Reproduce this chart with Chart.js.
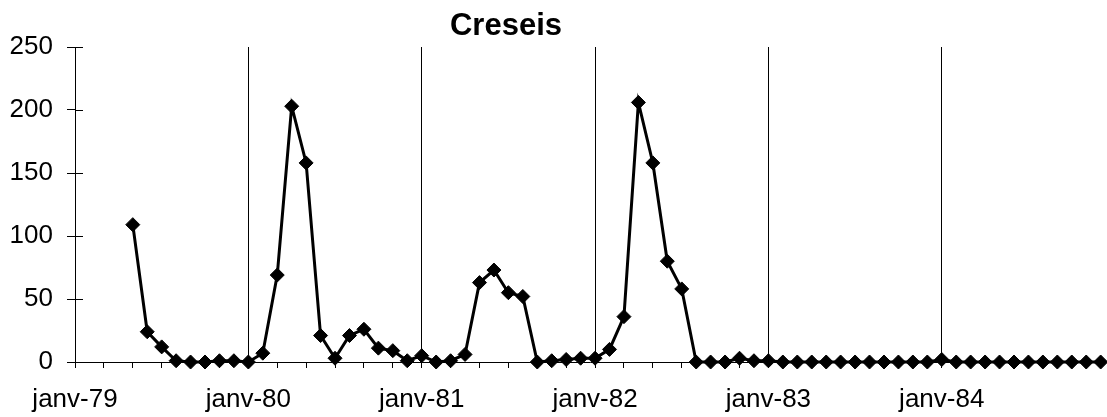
<!DOCTYPE html>
<html>
<head>
<meta charset="utf-8">
<script src="https://cdn.jsdelivr.net/npm/chart.js@4"></script>
<style>
  html, body { margin: 0; padding: 0; background: #fff; overflow: hidden; }
  #wrap { position: relative; width: 1107px; height: 417px; overflow: hidden; }
  #title {
    position: absolute; top: 7px; left: 406px; width: 200px; text-align: center;
    font: bold 31px "Liberation Sans", Arial, sans-serif; color: #000;
  }
  canvas { position: absolute; left: 0; top: 0; }
</style>
</head>
<body>
<div id="wrap">
  <canvas id="chart" width="1113" height="417"></canvas>
  <div id="title">Creseis</div>
</div>
<script>
// months counted from janv-79 (0 = janv-79)
const months = [];
for (let m = 4; m <= 71; m++) months.push(m);

const counts = [
  109, 24, 12, 1, 0, 0, 1, 1, 0,            // mai-79 .. janv-80
  7, 69, 203, 158, 21, 3, 21, 26, 11, 9, 1, // fevr-80 .. dec-80
  5, 0, 1, 6, 63, 73, 55, 52, 0, 1, 2, 3,   // janv-81 .. dec-81
  3, 10, 36, 206, 158, 80, 58, 0, 0, 0, 3, 1, // janv-82 .. dec-82
  1, 0, 0, 0, 0, 0, 0, 0, 0, 0, 0, 0,       // janv-83 .. dec-83
  2, 0, 0, 0, 0, 0, 0, 0, 0, 0, 0, 0        // janv-84 .. dec-84
];

const yearLabels = ['janv-79', 'janv-80', 'janv-81', 'janv-82', 'janv-83', 'janv-84'];

const FONT = { family: '"Liberation Sans", Arial, sans-serif', size: 26 };

// small tick marks on the inner side of the y axis
const innerTicks = {
  id: 'innerTicks',
  afterDraw(chart) {
    const y = chart.scales.y, ctx = chart.ctx;
    ctx.save();
    ctx.strokeStyle = '#000';
    ctx.lineWidth = 1;
    y.ticks.forEach(t => {
      const py = Math.round(y.getPixelForValue(t.value)) + 0.5;
      ctx.beginPath();
      ctx.moveTo(y.right, py);
      ctx.lineTo(y.right + 8, py);
      ctx.stroke();
    });
    ctx.restore();
  }
};

new Chart(document.getElementById('chart').getContext('2d'), {
  type: 'line',
  data: {
    datasets: [{
      data: months.map((m, i) => ({ x: m, y: counts[i] })),
      borderColor: '#000',
      backgroundColor: '#000',
      borderWidth: 3,
      pointStyle: 'rectRot',
      pointRadius: 7,
      pointHoverRadius: 7,
      pointBorderWidth: 1,
      pointBackgroundColor: '#000',
      pointBorderColor: '#000',
      tension: 0,
      clip: false
    }]
  },
  options: {
    responsive: false,
    animation: false,
    layout: { padding: { top: 47, right: 0, left: 0, bottom: 0 } },
    plugins: { legend: { display: false }, tooltip: { enabled: false }, title: { display: false } },
    scales: {
      x: {
        type: 'linear',
        min: 0,
        max: 71.3,
        afterFit(s) { s.height = 55; s.paddingRight = 0; s.paddingLeft = 0; },
        border: { display: true, color: '#000', width: 1 },
        grid: {
          color: c => (c.tick && c.tick.value % 12 === 0) ? '#000' : 'rgba(0,0,0,0)',
          tickColor: c => (c.tick && c.tick.value % 2 === 0) ? '#000' : 'rgba(0,0,0,0)',
          tickLength: 6,
          lineWidth: 1
        },
        ticks: {
          stepSize: 2,
          autoSkip: false,
          maxRotation: 0,
          padding: 16,
          color: '#000',
          font: FONT,
          callback: v => (v % 12 === 0) ? yearLabels[v / 12] : ''
        }
      },
      y: {
        min: 0,
        max: 250,
        afterFit(s) { s.width = 75; },
        border: { display: true, color: '#000', width: 1 },
        grid: { drawOnChartArea: false, color: '#000', tickLength: 8 },
        ticks: { stepSize: 50, padding: 14, color: '#000', font: FONT }
      }
    }
  },
  plugins: [innerTicks]
});
</script>
</body>
</html>
